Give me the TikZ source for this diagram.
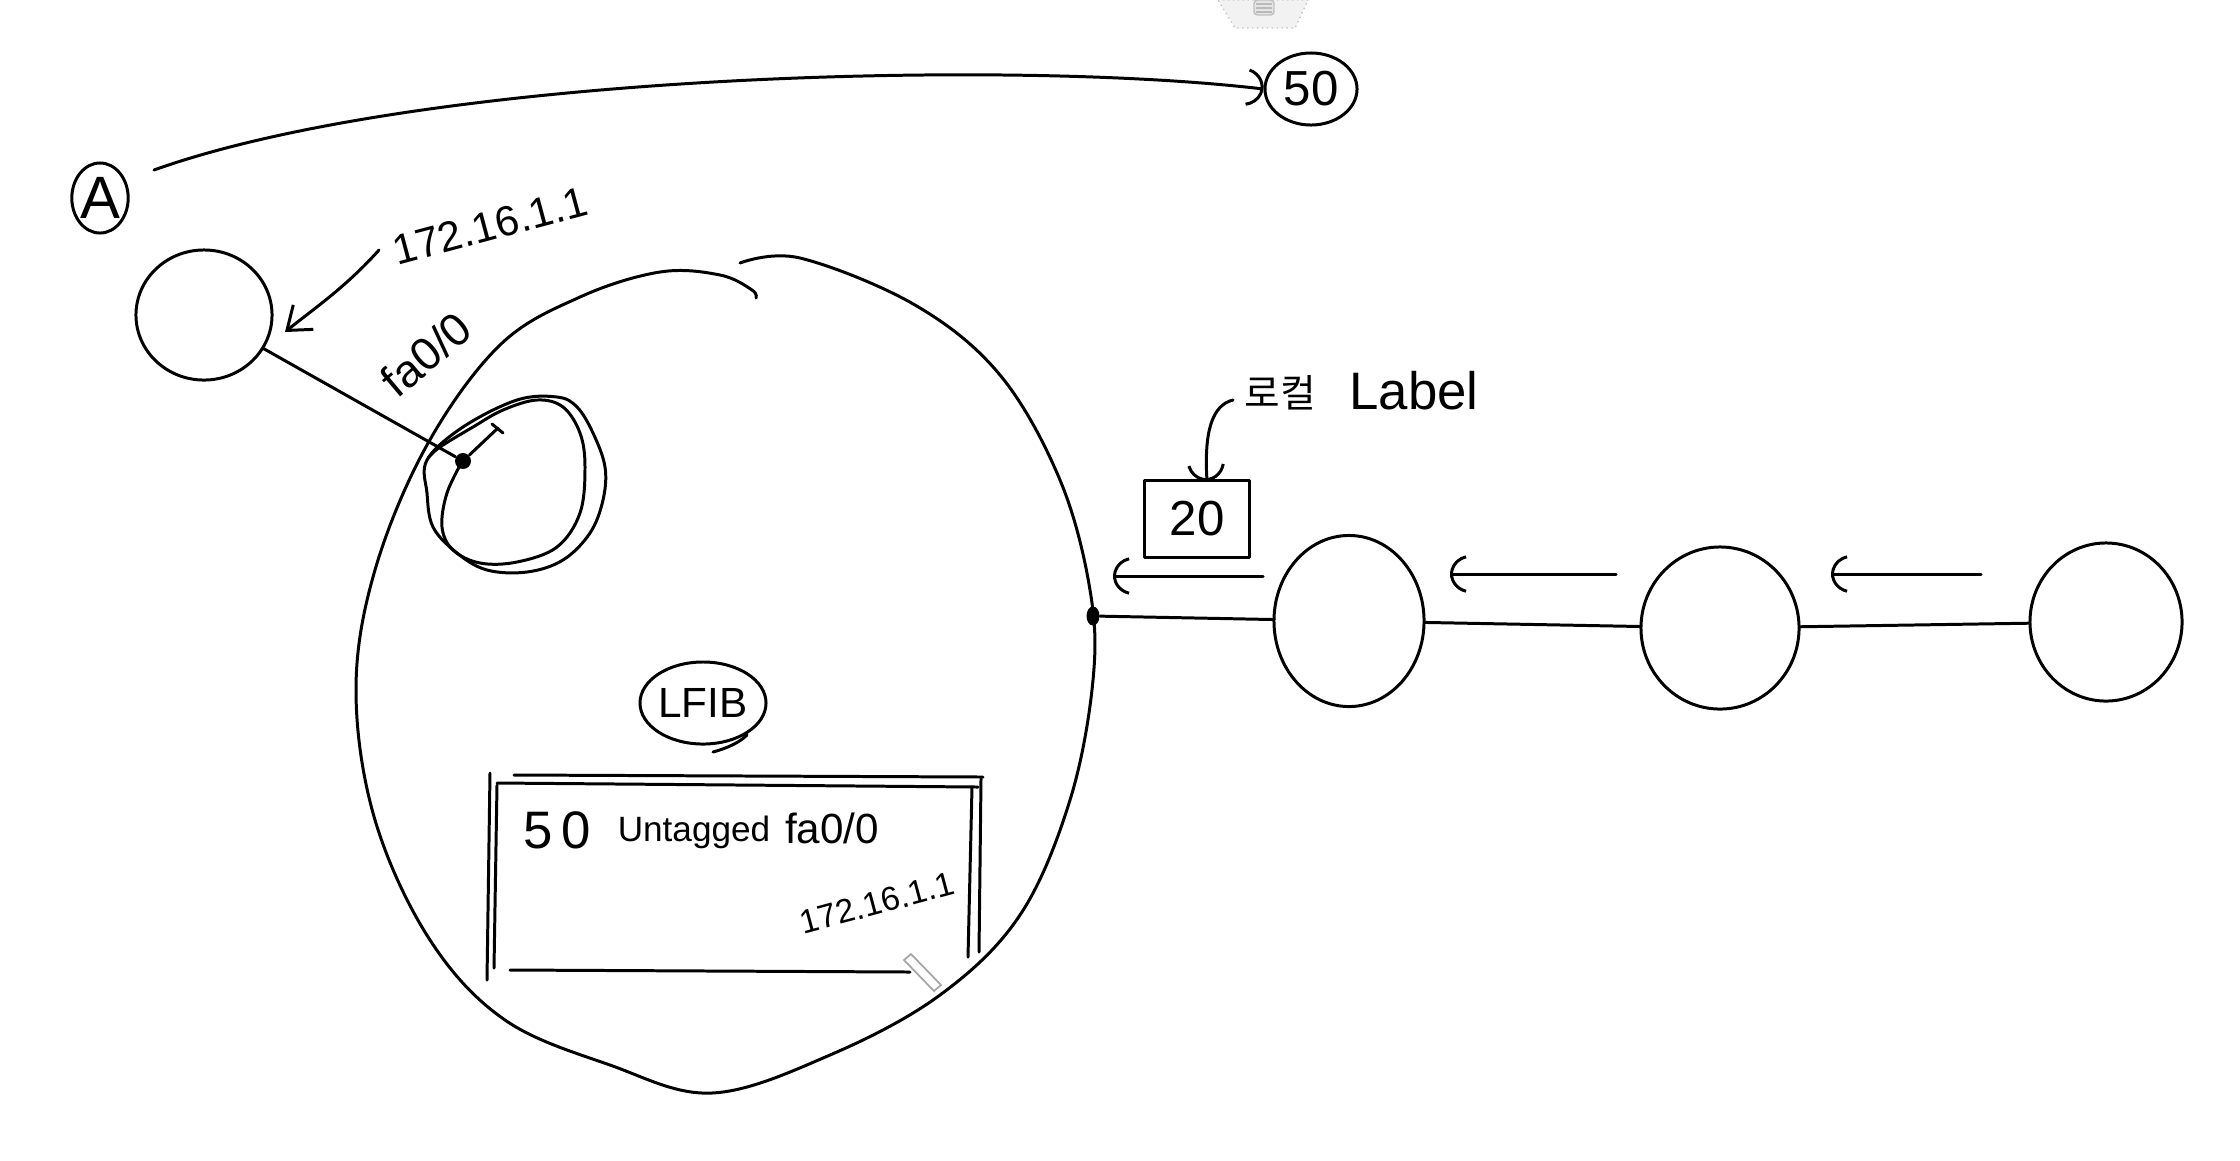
\documentclass[tikz,border=0pt]{standalone}
\usepackage{fontspec}
\setmainfont{Liberation Sans}
\newfontfamily\krfont{Noto Sans CJK KR}
\usetikzlibrary{arrows.meta,shapes.geometric}
\begin{document}
\begin{tikzpicture}[x=0.01cm,y=-0.01cm,
  pen/.style={line width=0.85pt, line cap=round, line join=round},
  ring/.style={pen, draw, ellipse, inner sep=0pt},
  hand/.style={inner sep=0pt},
  arctip/.style={-{Arc Barb[length=6pt,width=11pt,arc=150]}},
  vtip/.style={-{Straight Barb[length=6pt,width=9pt]}},
  blob/.style={circle, fill=black, inner sep=0pt, minimum size=0.16cm}
]
\fill[white] (0,0) rectangle (2240,1160);
\useasboundingbox (0,0) rectangle (2240,1160);

% top screen artefact
\draw[gray!45, fill=gray!10, densely dotted] (1218,0) -- (1308,0) -- (1295,28) -- (1235,28) -- cycle;
\draw[gray!50, fill=gray!20, rounded corners=1pt] (1254,0) rectangle (1274,15);
\foreach \yy in {4,8,12} \draw[gray!55] (1256,\yy) -- (1272,\yy);

% A and 50
\node[ring, minimum width=0.56cm, minimum height=0.70cm, font=\fontsize{17}{17}\selectfont] (a) at (100,198) {A};
\node[ring, minimum width=0.92cm, minimum height=0.72cm, font=\fontsize{14}{14}\selectfont] (fifty) at (1311,89) {50};
\coordinate (aS) at (154,170);
\draw[pen, arctip] (aS) .. controls (420,75) and (1000,58) .. (fifty.west);

% R1
\node[ring, minimum width=1.36cm, minimum height=1.30cm] (r1) at (204,315) {};
\node[hand, rotate=15, font=\fontsize{12}{12}\selectfont] (ipA) at (490,226) {172.16.1.1};
\coordinate (ipS) at (379,250);
\coordinate (ipE) at (285,332);
\draw[pen, vtip] (ipS) .. controls (345,288) and (312,310) .. (ipE);

% big router
\draw[pen] plot[smooth, tension=0.6] coordinates {
 (740,263) (800,258) (915,305) (1000,375) (1060,480) (1090,590) (1093,680)
 (1070,800) (1020,915) (940,995) (830,1055) (712,1093) (610,1065) (505,1020)
 (430,940) (375,820) (356,690) (375,570) (427,445) (500,345) (580,297)
 (660,272) (720,275) (752,290) (756,298)};

% interface loops
\draw[pen] plot[smooth cycle, tension=0.6] coordinates {
 (427,460) (463,427) (517,400) (557,397) (577,407) (593,433) (605,467) (603,500)
 (590,533) (563,560) (527,572) (487,570) (457,553) (433,527) (427,493)};
\draw[pen] plot[smooth, tension=0.6] coordinates {
 (463,460) (447,493) (442,527) (453,550) (480,563) (517,562) (557,547) (580,513)
 (585,467) (580,433) (563,407) (537,400) (503,410) (473,427) (440,447) (428,458)};
\node[blob] (dotL) at (463,461) {};
\draw[pen] (dotL) -- (498,428);
\draw[pen] (492,424) -- (503,433);
\draw[pen] (r1) -- (dotL);
\node[hand, rotate=40, font=\fontsize{13}{13}\selectfont] (fa) at (426,354) {fa0/0};

% LFIB
\node[ring, minimum width=1.12cm, minimum height=0.82cm, font=\fontsize{12}{12}\selectfont] (lfib) at (703,703) {LFIB};
\draw[pen] (713,752) .. controls (728,748) and (740,742) .. (747,735);

% table
\draw[pen] (514,775) -- (983,777);
\draw[pen] (497,783) -- (978,787);
\draw[pen] (490,773) -- (487,980);
\draw[pen] (497,785) -- (494,968);
\draw[pen] (972,787) -- (968,957);
\draw[pen] (981,779) -- (979,952);
\draw[pen] (510,970) -- (910,972);
\node[hand, font=\fontsize{15}{15}\selectfont] (t50) at (557,830) {5\,0};
\node[hand, font=\fontsize{10}{10}\selectfont] (tun) at (694,832) {Untagged};
\node[hand, font=\fontsize{12}{12}\selectfont] (tfa) at (832,828) {fa0/0};
\node[hand, rotate=15, font=\fontsize{9.5}{9.5}\selectfont] (tip) at (877,903) {172.16.1.1};
\draw[gray!70, line width=0.5pt] (904,960) -- (911,954) -- (941,985) -- (934,991) -- cycle;

% right side
\node[blob, minimum width=0.13cm, minimum height=0.19cm, ellipse] (dotR) at (1093,616) {};
\node[ring, minimum width=1.50cm, minimum height=1.71cm] (c1) at (1349,621) {};
\node[ring, minimum width=1.58cm, minimum height=1.62cm] (c2) at (1720,628) {};
\node[ring, minimum width=1.52cm, minimum height=1.58cm] (c3) at (2106,622) {};
\draw[pen] (dotR) -- (c1);
\draw[pen] (c1) -- (c2);
\draw[pen] (c2) -- (c3);

\node[pen, draw, minimum width=1.04cm, minimum height=0.76cm, inner sep=0pt, font=\fontsize{14}{14}\selectfont] (lbl) at (1197,519) {20};
\node[hand, font=\krfont\fontsize{11}{11}\selectfont] (kr) at (1280,393) {로컬};
\node[hand, font=\fontsize{15}{15}\selectfont] (lab) at (1414,391) {Label};
\coordinate (krS) at (1233,400);
\coordinate (lblT) at (1207,481);
\draw[pen, arctip] (krS) .. controls (1212,405) and (1204,432) .. (lblT);

\coordinate (a1s) at (1263,576); \coordinate (a1e) at (1113,576);
\coordinate (a2s) at (1616,574); \coordinate (a2e) at (1450,574);
\coordinate (a3s) at (1981,574); \coordinate (a3e) at (1831,574);
\draw[pen, arctip] (a1s) -- (a1e);
\draw[pen, arctip] (a2s) -- (a2e);
\draw[pen, arctip] (a3s) -- (a3e);
\end{tikzpicture}
\end{document}
